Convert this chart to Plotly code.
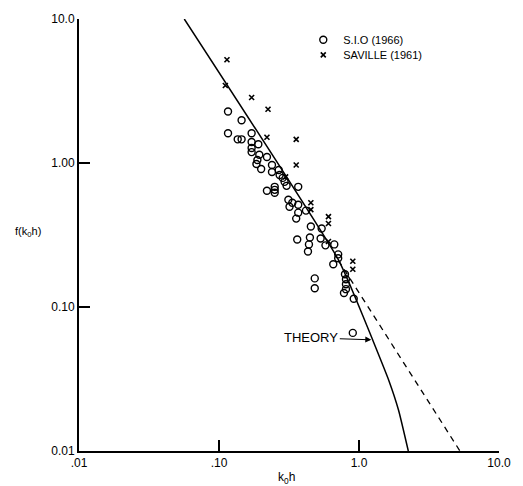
import math
import plotly.graph_objects as go

# S.I.O (1966) observations (k0h, f(k0h))
sio_k = [0.116, 0.145, 0.116, 0.136, 0.145, 0.171, 0.171, 0.191, 0.171, 0.171,
         0.194, 0.220, 0.188, 0.185, 0.200, 0.239, 0.239, 0.267, 0.271, 0.285,
         0.294, 0.304, 0.368, 0.220, 0.250, 0.250, 0.250, 0.313, 0.334, 0.319,
         0.368, 0.368, 0.418, 0.356, 0.453, 0.541, 0.446, 0.362, 0.439, 0.432,
         0.532, 0.576, 0.666, 0.710, 0.710, 0.655, 0.794, 0.807, 0.807, 0.807,
         0.781, 0.917, 0.483, 0.483, 0.903]
sio_f = [2.28, 1.98, 1.61, 1.46, 1.46, 1.61, 1.40, 1.35, 1.27, 1.19,
         1.14, 1.10, 1.05, 0.984, 0.909, 0.969, 0.867, 0.895, 0.826, 0.788,
         0.740, 0.694, 0.683, 0.641, 0.683, 0.651, 0.621, 0.556, 0.530, 0.497,
         0.513, 0.452, 0.467, 0.411, 0.362, 0.351, 0.304, 0.294, 0.272, 0.243,
         0.299, 0.268, 0.272, 0.232, 0.218, 0.198, 0.169, 0.156, 0.144, 0.133,
         0.125, 0.114, 0.158, 0.135, 0.0661]

# Saville (1961) observations
sav_k = [0.114, 0.111, 0.171, 0.224, 0.220, 0.356, 0.356, 0.299, 0.453, 0.453,
         0.605, 0.605, 0.605, 0.903, 0.903]
sav_f = [5.21, 3.45, 2.85, 2.36, 1.51, 1.46, 0.969, 0.801, 0.530, 0.474,
         0.424, 0.380, 0.285, 0.208, 0.183]

# Theory curve (solid)
theory_k = [0.0565, 0.710, 0.932, 1.243, 1.633, 1.917, 2.25]
theory_f = [10.0, 0.214, 0.119, 0.0601, 0.0309, 0.0192, 0.0100]

# Straight-line extension (dashed)
ext_k = [0.710, 5.26]
ext_f = [0.212, 0.0100]

# Arrow target on theory curve
arrow_k = 1.224
arrow_f = 0.0592

x_tickvals = [0.01, 0.1, 1, 10]
x_ticktext = [".01", ".10", "1.0", "10.0"]
y_tickvals = [0.01, 0.1, 1, 10]
y_ticktext = ["0.01", "0.10", "1.00", "10.0"]

FONT = "Liberation Sans, Arial, sans-serif"

fig = go.Figure()
fig.add_trace(go.Scatter(x=theory_k, y=theory_f, mode="lines",
                         line=dict(color="black", width=1.5, shape="spline", smoothing=0.5),
                         showlegend=False, hoverinfo="skip"))
fig.add_trace(go.Scatter(x=ext_k, y=ext_f, mode="lines",
                         line=dict(color="black", width=1.3, dash="6px,5px"),
                         showlegend=False, hoverinfo="skip"))
fig.add_trace(go.Scatter(x=sio_k, y=sio_f, mode="markers", name="S.I.O (1966)",
                         legend="legend",
                         marker=dict(symbol="circle-open", size=7, color="black",
                                     line=dict(width=1.4, color="black"))))
fig.add_trace(go.Scatter(x=sav_k, y=sav_f, mode="markers", name="SAVILLE (1961)",
                         legend="legend2",
                         marker=dict(symbol="x-thin", size=5, color="black",
                                     line=dict(width=1.6, color="black"))))

fig.add_annotation(x=math.log10(arrow_k), y=math.log10(arrow_f), xref="x", yref="y",
                   text="THEORY", showarrow=True, arrowhead=2, arrowsize=1,
                   arrowwidth=1.2, arrowcolor="black", ax=-60, ay=-2,
                   font=dict(family=FONT, size=13, color="black"))
fig.add_annotation(x=-0.156, y=0.508, xref="paper", yref="paper",
                   xanchor="left", yanchor="middle", showarrow=False,
                   text="f(k<sub>0</sub>h)",
                   font=dict(family=FONT, size=11, color="black"))
fig.add_annotation(x=0.495, y=-0.062, xref="paper", yref="paper",
                   xanchor="center", yanchor="middle", showarrow=False,
                   text="k<sub>0</sub>h",
                   font=dict(family=FONT, size=12, color="black"))

axis_common = dict(type="log", showgrid=False, zeroline=False, showline=True,
                   linecolor="black", linewidth=2, ticks="inside", ticklen=11,
                   tickwidth=1.5, tickcolor="black", mirror=False,
                   tickfont=dict(family=FONT, size=12, color="black"))

fig.update_xaxes(range=[-2, 1], tickvals=x_tickvals, ticktext=x_ticktext,
                 **axis_common)
fig.update_yaxes(range=[-2, 1], tickvals=y_tickvals, ticktext=y_ticktext,
                 **axis_common)

legend_common = dict(xanchor="left", yanchor="middle",
                     font=dict(family=FONT, size=11, color="black"),
                     bgcolor="rgba(0,0,0,0)", borderwidth=0)

fig.update_layout(
    width=523, height=486,
    margin=dict(l=79, r=15, t=16, b=35),
    plot_bgcolor="white", paper_bgcolor="white",
    legend=dict(x=0.534, y=0.952, **legend_common),
    legend2=dict(x=0.534, y=0.917, **legend_common),
    font=dict(family=FONT, color="black"),
)

fig.write_html("out.html", config={"displayModeBar": False},
               post_script="document.body.style.margin='0px';")
